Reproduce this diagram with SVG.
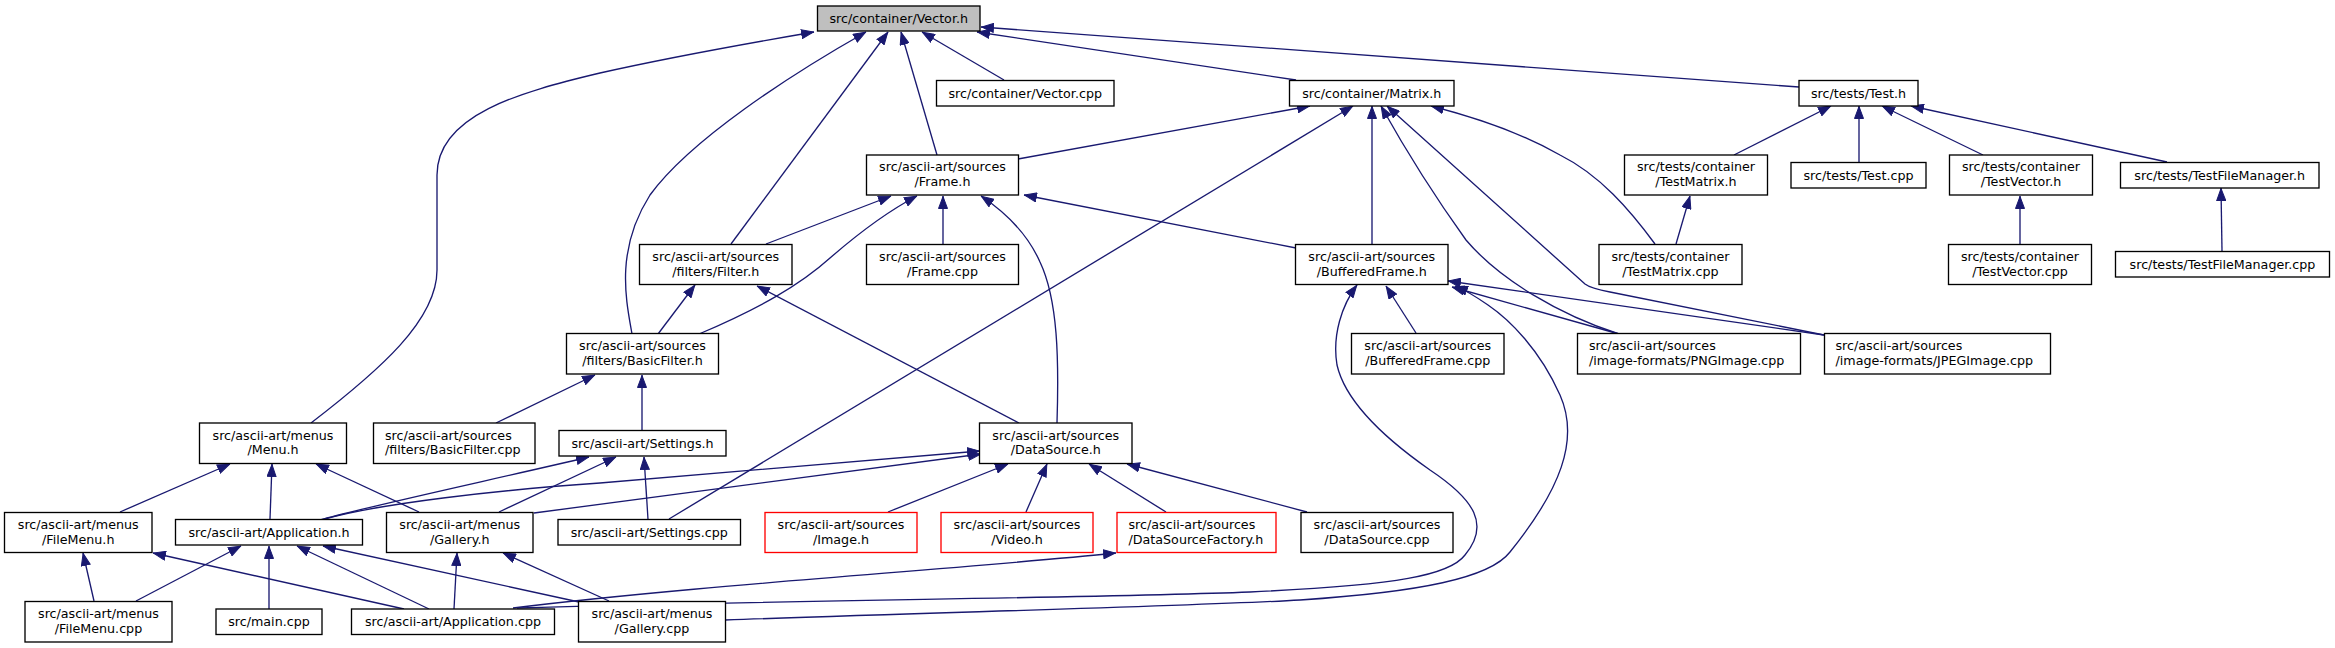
<svg xmlns="http://www.w3.org/2000/svg" width="2335" height="648" viewBox="0 0 2335 648">
<style>
.node rect{fill:#ffffff;stroke:#000000;stroke-width:1.33}
.root rect{fill:#bfbfbf}
.trunc rect{stroke:#ff0000}
text{font-family:"DejaVu Sans","Liberation Sans",sans-serif;font-size:12.7px;fill:#000000;text-anchor:middle}
.la text{text-anchor:start}
#edges path{fill:none;stroke:#191970;stroke-width:1.33;marker-end:url(#arr)}
</style>
<defs>
<marker id="arr" viewBox="0 0 13 10" refX="13" refY="5" markerWidth="13" markerHeight="10" markerUnits="userSpaceOnUse" orient="auto">
<path d="M0.5,0.5 L12.5,5 L0.5,9.5 z" fill="#191970" stroke="#191970" stroke-width="1"/>
</marker>
</defs>
<rect width="2335" height="648" fill="#ffffff"/>
<g id="edges">
<path d="M311,423 C380,370 437,320 437,270 L437,175 C437,115 520,92 600,73 C680,55 750,43 814,32"/>
<path d="M731,244 L888,32"/>
<path d="M632,334 C626,300 615,250 650,195 C690,140 790,75 866,32"/>
<path d="M937,155 L901,32"/>
<path d="M1004,80 L922,32"/>
<path d="M1296,80 L977,32"/>
<path d="M1799,87 L981,27"/>
<path d="M1018,159 L1310,106"/>
<path d="M669,519 L1353,106"/>
<path d="M1372,244 L1372,106"/>
<path d="M1619,334 C1560,315 1500,280 1466,240 C1430,190 1400,140 1381,106"/>
<path d="M1824,335 L1610,292 C1600,290 1590,288 1585,284 L1387,106"/>
<path d="M1655,244 C1630,210 1600,175 1560,155 C1520,132 1470,116 1431,106"/>
<path d="M1676,244 L1690,196"/>
<path d="M1734,155 L1831,106"/>
<path d="M1859,162 L1859,106"/>
<path d="M1983,155 L1882,106"/>
<path d="M2167,162 L1911,106"/>
<path d="M2020,244 L2020,196"/>
<path d="M2222,251 L2221,188"/>
<path d="M766,244 L891,196"/>
<path d="M699,334 C760,308 800,285 830,258 C860,232 890,210 917,196"/>
<path d="M658,334 L695,285"/>
<path d="M943,244 L943,196"/>
<path d="M1057,423 C1059,360 1058,300 1040,262 C1028,235 1005,212 981,196"/>
<path d="M1296,248 L1024,195"/>
<path d="M1019,423 L757,286"/>
<path d="M496,423 L595,375"/>
<path d="M642,430 L642,375"/>
<path d="M320,520 C360,508 500,478 589,457"/>
<path d="M499,512 L616,457"/>
<path d="M648,519 L644,457"/>
<path d="M321,520 C380,503 500,490 600,483 C760,470 900,458 980,451"/>
<path d="M534,513 L981,454"/>
<path d="M888,512 L1008,464"/>
<path d="M1026,512 L1047,464"/>
<path d="M1166,512 L1089,464"/>
<path d="M1307,512 L1127,464"/>
<path d="M120,512 L230,464"/>
<path d="M270,519 L272,464"/>
<path d="M419,512 L316,464"/>
<path d="M94,601 L83,553"/>
<path d="M404,609 L153,553"/>
<path d="M136,601 L241,546"/>
<path d="M269,609 L269,546"/>
<path d="M429,609 L297,546"/>
<path d="M579,602 L323,546"/>
<path d="M454,609 L457,553"/>
<path d="M609,601 L503,553"/>
<path d="M513,608 C700,585 950,570 1116,553"/>
<path d="M517,608 C800,600 1100,598 1250,592 C1400,585 1450,575 1465,555 C1490,525 1475,500 1430,470 C1380,435 1345,400 1337,365 C1332,335 1342,305 1357,285"/>
<path d="M725,620 C950,612 1200,606 1300,600 C1420,592 1490,578 1510,552 C1560,490 1580,440 1560,395 C1540,350 1510,320 1488,305 C1475,296 1465,290 1455,286"/>
<path d="M1416,333 L1386,286"/>
<path d="M1619,334 L1452,287"/>
<path d="M1824,335 L1448,281"/>
</g>
<g id="n_vector_h" class="node root"><rect x="817.5" y="6" width="162.5" height="25"/><text x="898.75" y="22.8">src/container/Vector.h</text></g>
<g id="n_vector_cpp" class="node"><rect x="936.5" y="80.5" width="177.5" height="25.5"/><text x="1025.25" y="97.5">src/container/Vector.cpp</text></g>
<g id="n_matrix_h" class="node"><rect x="1289.5" y="80.5" width="164.5" height="25.5"/><text x="1371.75" y="97.5">src/container/Matrix.h</text></g>
<g id="n_test_h" class="node"><rect x="1799" y="80.5" width="119" height="25.5"/><text x="1858.5" y="97.5">src/tests/Test.h</text></g>
<g id="n_frame_h" class="node"><rect x="866.5" y="155" width="152" height="40"/><text x="942.5" y="171.3">src/ascii-art/sources</text><text x="942.5" y="186">/Frame.h</text></g>
<g id="n_testmatrix_h" class="node"><rect x="1624.5" y="155" width="143" height="40"/><text x="1696" y="171.3">src/tests/container</text><text x="1696" y="186">/TestMatrix.h</text></g>
<g id="n_test_cpp" class="node"><rect x="1791" y="162.5" width="135" height="25.5"/><text x="1858.5" y="179.5">src/tests/Test.cpp</text></g>
<g id="n_testvector_h" class="node"><rect x="1949.5" y="155" width="143" height="40"/><text x="2021" y="171.3">src/tests/container</text><text x="2021" y="186">/TestVector.h</text></g>
<g id="n_testfilemanager_h" class="node"><rect x="2120.5" y="162.5" width="198.5" height="25.5"/><text x="2219.75" y="179.5">src/tests/TestFileManager.h</text></g>
<g id="n_filter_h" class="node"><rect x="639.5" y="244.5" width="152.5" height="40"/><text x="715.75" y="260.8">src/ascii-art/sources</text><text x="715.75" y="275.5">/filters/Filter.h</text></g>
<g id="n_frame_cpp" class="node"><rect x="866.5" y="244.5" width="152" height="40"/><text x="942.5" y="260.8">src/ascii-art/sources</text><text x="942.5" y="275.5">/Frame.cpp</text></g>
<g id="n_bufferedframe_h" class="node"><rect x="1295.5" y="244.5" width="152.5" height="40"/><text x="1371.75" y="260.8">src/ascii-art/sources</text><text x="1371.75" y="275.5">/BufferedFrame.h</text></g>
<g id="n_testmatrix_cpp" class="node"><rect x="1599" y="244.5" width="143" height="40"/><text x="1670.5" y="260.8">src/tests/container</text><text x="1670.5" y="275.5">/TestMatrix.cpp</text></g>
<g id="n_testvector_cpp" class="node"><rect x="1948.5" y="244.5" width="143" height="40"/><text x="2020" y="260.8">src/tests/container</text><text x="2020" y="275.5">/TestVector.cpp</text></g>
<g id="n_testfilemanager_cpp" class="node"><rect x="2115.5" y="251.5" width="214" height="25.5"/><text x="2222.5" y="268.5">src/tests/TestFileManager.cpp</text></g>
<g id="n_basicfilter_h" class="node"><rect x="566.5" y="333.5" width="152" height="40.5"/><text x="642.5" y="350">src/ascii-art/sources</text><text x="642.5" y="364.75">/filters/BasicFilter.h</text></g>
<g id="n_bufferedframe_cpp" class="node"><rect x="1351.5" y="333.5" width="152.5" height="40.5"/><text x="1427.75" y="350">src/ascii-art/sources</text><text x="1427.75" y="364.75">/BufferedFrame.cpp</text></g>
<g id="n_pngimage_cpp" class="node la"><rect x="1577.5" y="333.5" width="223" height="40.5"/><text x="1589" y="350">src/ascii-art/sources</text><text x="1589" y="364.75">/image-formats/PNGImage.cpp</text></g>
<g id="n_jpegimage_cpp" class="node la"><rect x="1824.5" y="333.5" width="226" height="40.5"/><text x="1835.5" y="350">src/ascii-art/sources</text><text x="1835.5" y="364.75">/image-formats/JPEGImage.cpp</text></g>
<g id="n_menu_h" class="node"><rect x="199.5" y="423" width="147" height="40.5"/><text x="273" y="439.5">src/ascii-art/menus</text><text x="273" y="454.25">/Menu.h</text></g>
<g id="n_basicfilter_cpp" class="node la"><rect x="373.5" y="423" width="161.5" height="40.5"/><text x="385" y="439.5">src/ascii-art/sources</text><text x="385" y="454.25">/filters/BasicFilter.cpp</text></g>
<g id="n_settings_h" class="node"><rect x="559" y="430.5" width="167" height="25.5"/><text x="642.5" y="447.5">src/ascii-art/Settings.h</text></g>
<g id="n_datasource_h" class="node"><rect x="979.5" y="423" width="152.5" height="40.5"/><text x="1055.75" y="439.5">src/ascii-art/sources</text><text x="1055.75" y="454.25">/DataSource.h</text></g>
<g id="n_filemenu_h" class="node"><rect x="4.5" y="512.5" width="147.5" height="40"/><text x="78.25" y="528.8">src/ascii-art/menus</text><text x="78.25" y="543.5">/FileMenu.h</text></g>
<g id="n_application_h" class="node"><rect x="175.5" y="519.5" width="187" height="25.5"/><text x="269" y="536.5">src/ascii-art/Application.h</text></g>
<g id="n_gallery_h" class="node"><rect x="386.5" y="512.5" width="146.5" height="40"/><text x="459.75" y="528.8">src/ascii-art/menus</text><text x="459.75" y="543.5">/Gallery.h</text></g>
<g id="n_settings_cpp" class="node"><rect x="558" y="519.5" width="182.5" height="25.5"/><text x="649.25" y="536.5">src/ascii-art/Settings.cpp</text></g>
<g id="n_image_h" class="node trunc"><rect x="765" y="512.5" width="152" height="40"/><text x="841" y="528.8">src/ascii-art/sources</text><text x="841" y="543.5">/Image.h</text></g>
<g id="n_video_h" class="node trunc"><rect x="941" y="512.5" width="152" height="40"/><text x="1017" y="528.8">src/ascii-art/sources</text><text x="1017" y="543.5">/Video.h</text></g>
<g id="n_datasourcefactory_h" class="node trunc la"><rect x="1117" y="512.5" width="159" height="40"/><text x="1128.5" y="528.8">src/ascii-art/sources</text><text x="1128.5" y="543.5">/DataSourceFactory.h</text></g>
<g id="n_datasource_cpp" class="node"><rect x="1301" y="512.5" width="152" height="40"/><text x="1377" y="528.8">src/ascii-art/sources</text><text x="1377" y="543.5">/DataSource.cpp</text></g>
<g id="n_filemenu_cpp" class="node"><rect x="25" y="601.5" width="147" height="40.5"/><text x="98.5" y="618">src/ascii-art/menus</text><text x="98.5" y="632.75">/FileMenu.cpp</text></g>
<g id="n_main_cpp" class="node"><rect x="216" y="609" width="106" height="25.5"/><text x="269" y="626">src/main.cpp</text></g>
<g id="n_application_cpp" class="node"><rect x="351.5" y="609" width="203" height="25.5"/><text x="453" y="626">src/ascii-art/Application.cpp</text></g>
<g id="n_gallery_cpp" class="node"><rect x="578.5" y="601.5" width="147" height="40.5"/><text x="652" y="618">src/ascii-art/menus</text><text x="652" y="632.75">/Gallery.cpp</text></g>
</svg>
